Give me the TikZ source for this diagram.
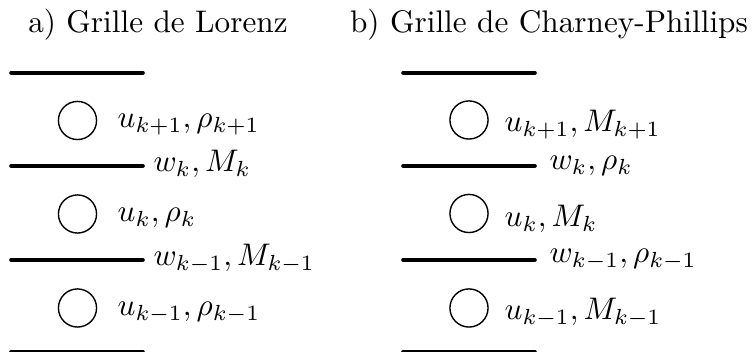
\documentclass[tikz,border=0pt]{standalone}
\usepackage{amsmath,amssymb}
\usetikzlibrary{positioning}
\tikzset{
  level/.style={line width=1.15pt,line cap=round},
  cell/.style={draw,circle,line width=0.45pt,minimum size=12.2pt,inner sep=0pt},
  lab/.style={anchor=base west,inner sep=0pt}
}

\begin{document}
\begin{tikzpicture}[x=0.32pt,y=-0.32pt]
  \useasboundingbox (0,0) rectangle (753,352);
  % titles
  \node[anchor=base,inner sep=0pt] (ta) at (158,33) {a) Grille de Lorenz};
  \node[anchor=base,inner sep=0pt] (tb) at (549,33) {b) Grille de Charney-Phillips};
  % levels
  \foreach \y in {73,166,260,352} {
    \draw[level] (11,\y) -- (143,\y);
    \draw[level] (403,\y) -- (535,\y);
  }
  % Lorenz
  \node[cell] (la1) at (77.5,120.5) {};
  \node[cell] (la2) at (77.5,214) {};
  \node[cell] (la3) at (77.5,308) {};
  \node[lab] (lu1) at (117,128) {$u_{k+1}, \rho_{k+1}$};
  \node[lab] (lw1) at (153,172) {$w_k, M_k$};
  \node[lab] (lu2) at (117,221.5) {$u_k, \rho_k$};
  \node[lab] (lw2) at (153,266) {$w_{k-1}, M_{k-1}$};
  \node[lab] (lu3) at (117,315.5) {$u_{k-1}, \rho_{k-1}$};
  % Charney-Phillips
  \node[cell] (cb1) at (469,120) {};
  \node[cell] (cb2) at (469,213.5) {};
  \node[cell] (cb3) at (469,308) {};
  \node[lab] (cu1) at (504,131.5) {$u_{k+1}, M_{k+1}$};
  \node[lab] (cw1) at (549,169.5) {$w_k, \rho_k$};
  \node[lab] (cu2) at (504,226.5) {$u_k, M_k$};
  \node[lab] (cw2) at (549,263) {$w_{k-1}, \rho_{k-1}$};
  \node[lab] (cu3) at (504,320) {$u_{k-1}, M_{k-1}$};
\end{tikzpicture}
\end{document}
